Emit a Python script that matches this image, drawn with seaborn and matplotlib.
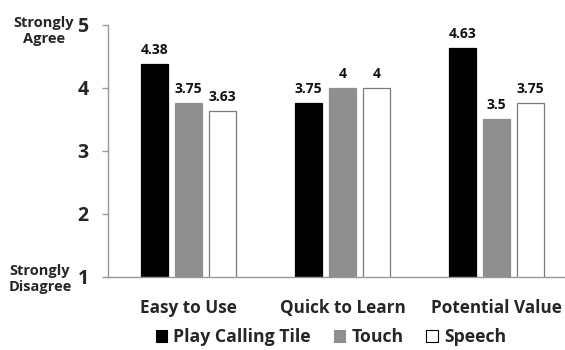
import matplotlib
matplotlib.use("Agg")
import matplotlib.pyplot as plt
import seaborn as sns
import pandas as pd
from matplotlib.patches import Patch

# Survey ratings (1 = strongly disagree, 5 = strongly agree)
categories = ["Easy to Use", "Quick to Learn", "Potential Value"]
methods = ["Play Calling Tile", "Touch", "Speech"]
play_calling_tile = [4.38, 3.75, 4.63]
touch = [3.75, 4.0, 3.5]
speech = [3.63, 4.0, 3.75]
y_ticks = [1, 2, 3, 4, 5]

fill_colors = ["#000000", "#8f8f8f", "#ffffff"]
edge_colors = ["#000000", "#8f8f8f", "#7a7a7a"]

rows = []
for method, vals in zip(methods, [play_calling_tile, touch, speech]):
    for cat, v in zip(categories, vals):
        rows.append({"category": cat, "method": method, "rating": v})
df = pd.DataFrame(rows)

sns.set_theme(style="white")
plt.rcParams["font.family"] = ["Open Sans", "DejaVu Sans"]
plt.rcParams["font.weight"] = "bold"

fig = plt.figure(figsize=(5.65, 3.5), dpi=100)
ax = fig.add_axes([108 / 565, 73 / 350, (565 - 108) / 565, (277 - 24.5) / 350])

sns.barplot(data=df, x="category", y="rating", hue="method",
            order=categories, hue_order=methods,
            palette=fill_colors, width=0.66, gap=0.2,
            ax=ax, legend=False, errorbar=None)

for container, ec in zip(ax.containers, edge_colors):
    for bar in container:
        bar.set_edgecolor(ec)
        bar.set_linewidth(0.9)
    ax.bar_label(container, labels=[f"{b.get_height():g}" for b in container],
                 padding=5, fontsize=10, fontweight="bold", color="#111111")

ax.set_ylim(1, 5)
ax.set_xlim(-0.523, 2.445)
ax.set_yticks(y_ticks)
ax.set_yticklabels([str(t) for t in y_ticks], fontsize=14, fontweight="bold")
ax.set_xlabel("")
ax.set_ylabel("")
ax.tick_params(axis="y", left=True, length=4, width=1, color="#999999", pad=10)
ax.tick_params(axis="x", bottom=False, pad=10, labelsize=12.3)
for lab in ax.get_xticklabels():
    lab.set_fontweight("bold")

sns.despine(ax=ax, top=True, right=True)
for side in ("left", "bottom"):
    ax.spines[side].set_color("#999999")
    ax.spines[side].set_linewidth(1)

fig.text(44 / 565, 1 - 31 / 350, "Strongly\nAgree", ha="center", va="center",
         fontsize=10.5, fontweight="bold", linespacing=1.1)
fig.text(40 / 565, 1 - 279 / 350, "Strongly\nDisagree", ha="center", va="center",
         fontsize=10.5, fontweight="bold", linespacing=1.1)

handles = [Patch(facecolor=fc, edgecolor=("#000000" if fc == "#ffffff" else fc), linewidth=0.8)
           for fc in fill_colors]
fig.legend(handles, methods, loc="center", bbox_to_anchor=(331 / 565, 1 - 337 / 350),
           ncol=3, frameon=False, fontsize=12.7, handlelength=0.64, handleheight=0.64,
           handletextpad=0.35, columnspacing=1.3, borderaxespad=0)
for t in fig.legends[0].get_texts():
    t.set_fontweight("bold")

fig.savefig("out.png", dpi=100)
